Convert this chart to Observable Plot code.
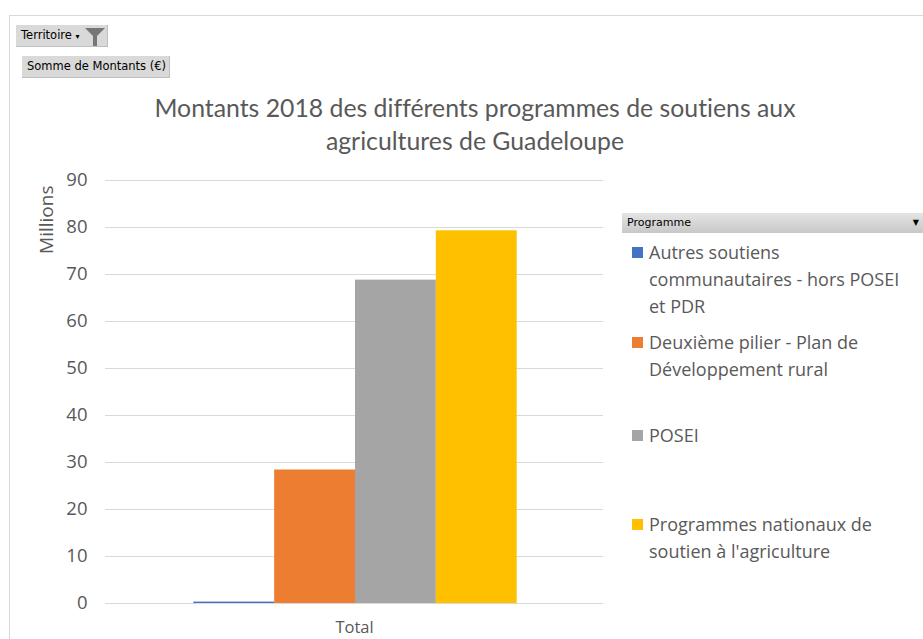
<!DOCTYPE html>
<html>
<head>
<meta charset="utf-8">
<script src="https://cdn.jsdelivr.net/npm/d3@7"></script>
<script src="https://cdn.jsdelivr.net/npm/@observablehq/plot@0.6"></script>
<style>
  html, body { margin: 0; padding: 0; background: #fff; }
  #page { position: relative; width: 923px; height: 639px; overflow: hidden; font-family: "Open Sans", sans-serif; color: #595959; }
  #frame { position: absolute; left: 9px; top: 15px; width: 930px; height: 640px; border-left: 1.5px solid #d9d9d9; border-top: 1.5px solid #d9d9d9; }
  .btn { position: absolute; background: #d9d9d9; color: #000; font-family: "DejaVu Sans", sans-serif; font-size: 11.5px; line-height: 21px; padding-left: 5px; box-sizing: border-box; border-right: 1px solid #bfbfbf; border-bottom: 1px solid #bfbfbf; }
  #title { position: absolute; left: 80px; width: 790px; top: 91px; text-align: center; font-family: Lato, sans-serif; font-size: 24.8px; line-height: 33px; color: #595959; font-variant-ligatures: none; font-feature-settings: "liga" 0; }
  #chart { position: absolute; left: 0; top: 160px; }
  #legHead { position: absolute; left: 622px; top: 213px; width: 301px; height: 20px; background: linear-gradient(#e4e4e4, #c8c8c8); font-family: "DejaVu Sans", sans-serif; font-size: 11px; line-height: 20px; color: #000; padding-left: 5px; box-sizing: border-box; }
  #legHead span { position: absolute; right: 4px; top: 0; font-size: 8px; }
  .item { position: absolute; left: 632px; width: 290px; font-size: 18px; line-height: 27px; color: #595959; }
  .sw { position: absolute; left: 0; width: 11px; height: 11px; top: 8px; }
  .txt { position: absolute; left: 17px; width: 280px; }
</style>
</head>
<body>
<div id="page">
  <div id="frame"></div>
  <div class="btn" style="left:16px;top:25px;width:92px;height:22px;">Territoire <span style="font-size:8px;">▾</span>
    <svg width="24" height="22" style="position:absolute;right:0;top:0;"><path d="M2,3 H22 L14,11 V21 H10 V11 Z" fill="#767676"/></svg>
  </div>
  <div class="btn" style="left:22px;top:56px;width:148px;height:22px;">Somme de Montants (€)</div>
  <div id="title">Montants 2018 des différents programmes de soutiens aux<br>agricultures de Guadeloupe</div>
  <div id="chart"></div>
  <div id="legHead">Programme<span>▼</span></div>
  <div id="legend"></div>
</div>
<script>
const programmes = [
  "Autres soutiens communautaires - hors POSEI et PDR",
  "Deuxième pilier - Plan de Développement rural",
  "POSEI",
  "Programmes nationaux de soutien à l'agriculture"
];
const montants = [0.3, 28.4, 68.8, 79.3]; // millions €
const colors = ["#4472C4", "#ED7D31", "#A5A5A5", "#FFC000"];
const yTicks = [0, 10, 20, 30, 40, 50, 60, 70, 80, 90];
const categoryLabel = "Total";
const yLabel = "Millions";
const legendLines = [
  ["Autres soutiens", "communautaires - hors POSEI", "et PDR"],
  ["Deuxième pilier - Plan de", "Développement rural"],
  ["POSEI"],
  ["Programmes nationaux de", "soutien à l'agriculture"]
];
const legendTops = [239, 329, 422, 511];

const data = programmes.map((p, i) => ({programme: p, value: montants[i]}));

const chart = Plot.plot({
  width: 615,
  height: 479,
  marginLeft: 105,
  marginRight: 12,
  marginTop: 20,
  marginBottom: 36,
  style: {fontFamily: "'Open Sans', sans-serif", fontSize: "18px", color: "#595959", background: "transparent"},
  x: {domain: programmes, paddingInner: 0, paddingOuter: 1.08, round: false, axis: null},
  y: {domain: [0, 90], axis: null},
  color: {domain: programmes, range: colors},
  marks: [
    Plot.ruleY(yTicks, {stroke: "#d9d9d9", strokeWidth: 1.2}),
    Plot.barY(data, {x: "programme", y: "value", fill: "programme", dx: 1}),
    Plot.axisY(yTicks, {tickSize: 0, tickPadding: 18, label: null, fill: "#595959", fontSize: 18.5}),
    Plot.text([categoryLabel], {frameAnchor: "bottom", dy: 29, fill: "#595959", fontSize: 16.5}),
    Plot.text([yLabel], {frameAnchor: "top-left", rotate: -90, textAnchor: "end", dx: -66, dy: 5, fill: "#595959", fontSize: 19})
  ]
});
document.getElementById("chart").appendChild(chart);

const leg = document.getElementById("legend");
legendLines.forEach((lines, i) => {
  const d = document.createElement("div");
  d.className = "item";
  d.style.top = legendTops[i] + "px";
  d.innerHTML = `<div class="sw" style="background:${colors[i]}"></div><div class="txt">${lines.join("<br>")}</div>`;
  leg.appendChild(d);
});
</script>
</body>
</html>
